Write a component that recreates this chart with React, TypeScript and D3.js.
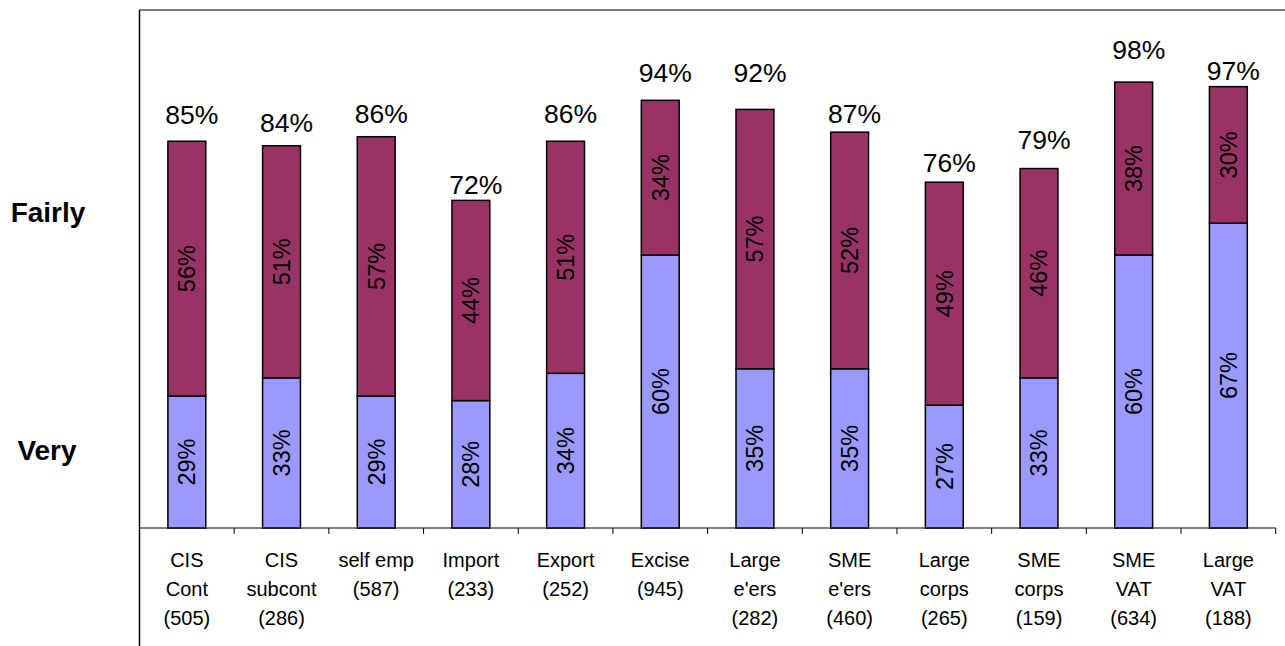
import React from "react";
import * as d3 from "d3";

const categories: string[][] = [
  ["CIS", "Cont", "(505)"],
  ["CIS", "subcont", "(286)"],
  ["self emp", "(587)"],
  ["Import", "(233)"],
  ["Export", "(252)"],
  ["Excise", "(945)"],
  ["Large", "e'ers", "(282)"],
  ["SME", "e'ers", "(460)"],
  ["Large", "corps", "(265)"],
  ["SME", "corps", "(159)"],
  ["SME", "VAT", "(634)"],
  ["Large", "VAT", "(188)"],
];
const veryValues = [29, 33, 29, 28, 34, 60, 35, 35, 27, 33, 60, 67];
const fairlyValues = [56, 51, 57, 44, 51, 34, 57, 52, 49, 46, 38, 30];
const totalValues = [85, 84, 86, 72, 86, 94, 92, 87, 76, 79, 98, 97];

// layout-only: gap (px) between bar top and the total label baseline, as placed in the reference
const totalLabelGap = [17, 14, 14, 6, 18, 18, 27, 9, 10, 20, 23, 7];

const W = 1285;
const H = 646;
const left = 139.5;
const right = 1275.7;
const top = 10;
const base = 528;
const FONT = "'Liberation Sans', Arial, sans-serif";
const PURPLE = "#993366";
const BLUE = "#9999FF";

export default function App() {
  const x = d3
    .scaleBand<number>()
    .domain(categories.map((_, i) => i))
    .range([left, right])
    .paddingInner(0.6)
    .paddingOuter(0.3);
  const step = (right - left) / categories.length;
  const y = d3.scaleLinear().domain([0, 113.85]).range([base, top]);

  const bw = x.bandwidth();

  return (
    <svg
      width={W}
      height={H}
      style={{ position: "absolute", left: 0, top: 0, background: "#fff" }}
      fontFamily={FONT}
    >
      {/* frame */}
      <line x1={left} x2={W} y1={top} y2={top} stroke="#000" strokeWidth={1.2} />
      <line x1={left} x2={left} y1={top} y2={H} stroke="#000" strokeWidth={1.5} />
      <line x1={left} x2={right} y1={base} y2={base} stroke="#000" strokeWidth={1.2} />
      {categories.map((_, i) => (
        <line
          key={"t" + i}
          x1={left + step * (i + 1)}
          x2={left + step * (i + 1)}
          y1={base}
          y2={base + 6}
          stroke="#000"
          strokeWidth={1}
        />
      ))}

      {/* side labels */}
      <text x={48} y={222} textAnchor="middle" fontSize={28} fontWeight="bold">
        Fairly
      </text>
      <text x={47} y={460} textAnchor="middle" fontSize={28} fontWeight="bold">
        Very
      </text>

      {categories.map((cat, i) => {
        const bx = x(i)!;
        const cx = bx + bw / 2;
        const v = veryValues[i];
        const f = fairlyValues[i];
        const yv = y(v);
        const yf = y(v + f);
        return (
          <g key={i}>
            <rect x={bx} y={yv} width={bw} height={base - yv} fill={BLUE} stroke="#000" strokeWidth={1.5} />
            <rect x={bx} y={yf} width={bw} height={yv - yf} fill={PURPLE} stroke="#000" strokeWidth={1.5} />
            <text
              transform={`translate(${cx},${(yv + base) / 2}) rotate(-90)`}
              textAnchor="middle"
              dy="0.36em"
              fontSize={23.5}
              fill="#000"
            >
              {v}%
            </text>
            <text
              transform={`translate(${cx},${(yf + yv) / 2}) rotate(-90)`}
              textAnchor="middle"
              dy="0.36em"
              fontSize={23.5}
              fill="#000"
            >
              {f}%
            </text>
            <text x={cx + 5} y={yf - totalLabelGap[i]} textAnchor="middle" fontSize={26.5} fill="#000">
              {totalValues[i]}%
            </text>
            {cat.map((line, j) => (
              <text key={j} x={left + step * (i + 0.5)} y={567 + j * 29} textAnchor="middle" fontSize={20} fill="#000">
                {line}
              </text>
            ))}
          </g>
        );
      })}
    </svg>
  );
}
